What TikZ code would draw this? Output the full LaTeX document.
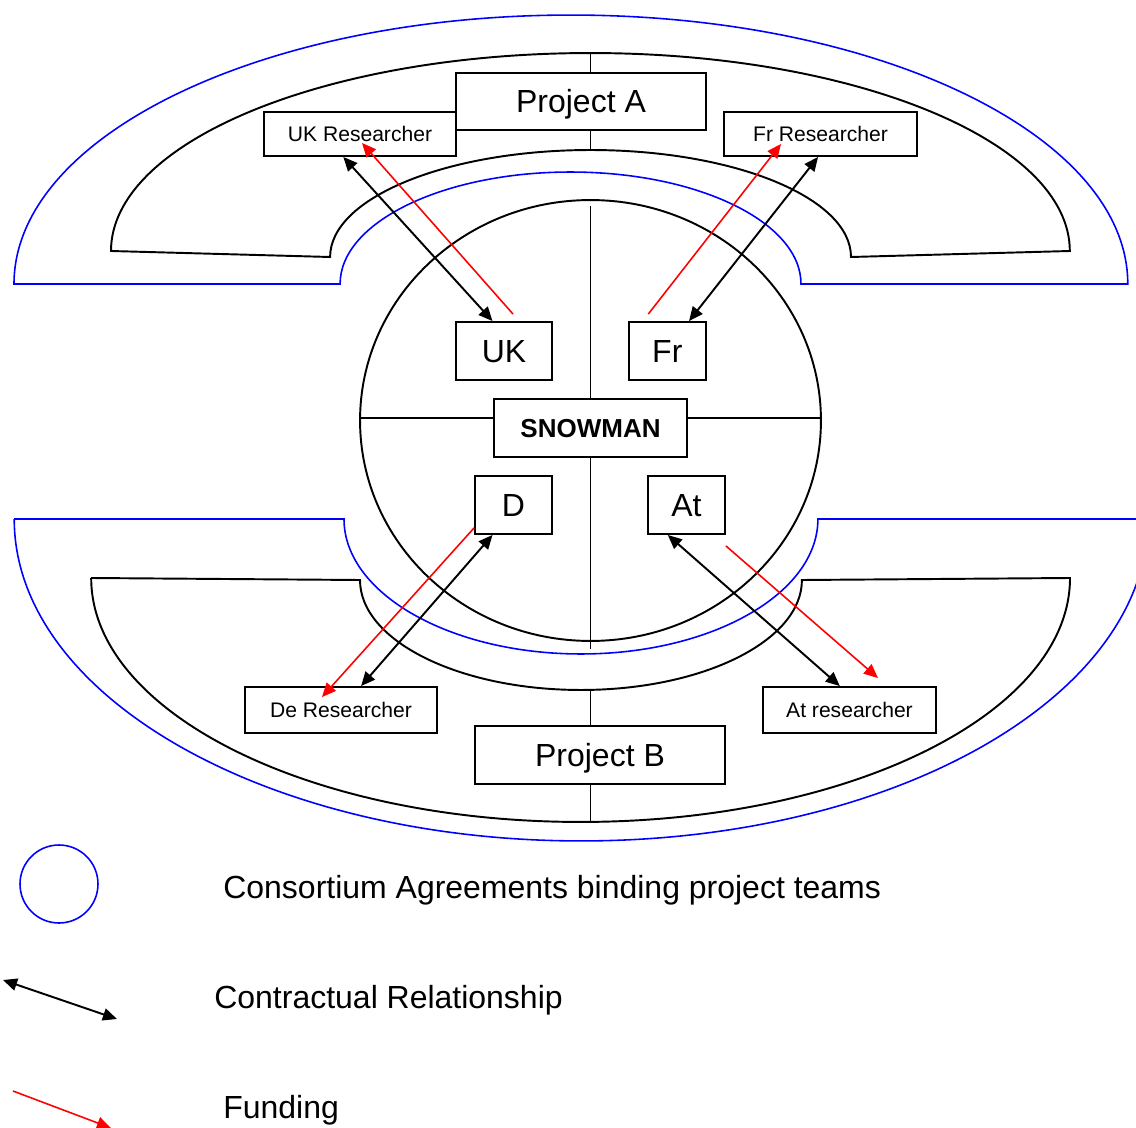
\documentclass[tikz,border=0pt]{standalone}
\usepackage{fontspec}
\setmainfont{Liberation Sans}
\usetikzlibrary{arrows.meta}

\tikzset{
  box/.style={draw, fill=white, line width=1.1pt, inner sep=0pt, text depth=0pt},
  big/.style={font=\fontsize{18.2}{21}\selectfont, text height=13pt},
  small/.style={font=\fontsize{12}{14}\selectfont, text height=8.6pt},
  bold/.style={font=\fontsize{14.8}{17}\selectfont\bfseries, text height=10.6pt},
  team/.style={line width=1.1pt},
  consortium/.style={blue, line width=0.9pt},
  contract/.style={line width=1.1pt, {Triangle[length=8pt,width=7pt]}-{Triangle[length=8pt,width=7pt]}},
  fund/.style={red, line width=0.9pt, -{Triangle[length=8pt,width=7pt]}}
}

\begin{document}
\begin{tikzpicture}[x=0.02cm, y=0.02cm]
  \useasboundingbox (0,0) rectangle (1136,-1128);
  % project A
  \draw[consortium] (14,-284) arc[start angle=180, end angle=0, x radius=11.14cm, y radius=5.38cm]
    -- (801,-284) arc[start angle=0, end angle=180, x radius=4.61cm, y radius=2.24cm] -- cycle;
  \draw[team] (111,-251) arc[start angle=180, end angle=0, x radius=9.59cm, y radius=3.96cm]
    -- (851,-257) arc[start angle=0, end angle=180, x radius=5.21cm, y radius=2.14cm] -- cycle;
  % project B
  \draw[consortium] (14,-519) -- (344,-519) arc[start angle=180, end angle=360, x radius=4.74cm, y radius=2.7cm]
    -- (1148,-519) arc[start angle=0, end angle=-180, x radius=11.34cm, y radius=6.44cm] -- cycle;
  \draw[team] (91,-578) -- (360,-580) arc[start angle=180, end angle=360, x radius=4.42cm, y radius=2.2cm]
    -- (1070,-578) arc[start angle=0, end angle=-180, x radius=9.79cm, y radius=4.88cm] -- cycle;
  % snowman
  \draw[team] (590.5,-420.5) ellipse [x radius=4.61cm, y radius=4.41cm];
  \draw[team] (590.5,-206) -- (590.5,-649);
  \draw[team] (360,-418) -- (821,-418);
  \draw[team] (590.5,-53) -- (590.5,-150);
  \draw[team] (590.5,-690) -- (590.5,-822);

  \node(projA) [box, big, minimum width=5cm, minimum height=1.14cm] at (581,-101.5) {Project A};
  \node(ukRes) [box, small, minimum width=3.84cm, minimum height=0.88cm] at (360,-134) {UK Researcher};
  \node(frRes) [box, small, minimum width=3.86cm, minimum height=0.88cm] at (820.5,-134) {Fr Researcher};
  \node(uk) [box, big, minimum width=1.92cm, minimum height=1.16cm] at (504,-351) {UK};
  \node(fr) [box, big, minimum width=1.55cm, minimum height=1.16cm] at (667.3,-351) {Fr};
  \node(snow) [box, bold, minimum width=3.86cm, minimum height=1.16cm] at (590.5,-428) {SNOWMAN};
  \node(de) [box, big, minimum width=1.54cm, minimum height=1.16cm] at (513.5,-505) {D};
  \node(aus) [box, big, minimum width=1.54cm, minimum height=1.16cm] at (686.5,-505) {At};
  \node(deRes) [box, small, minimum width=3.84cm, minimum height=0.92cm] at (341,-710) {De Researcher};
  \node(atRes) [box, small, minimum width=3.46cm, minimum height=0.92cm] at (849.5,-710) {At researcher};
  \node(projB) [box, big, minimum width=5cm, minimum height=1.16cm] at (600,-755) {Project B};

  \draw[contract] (uk.111) -- (ukRes.234);
  \draw[contract] (fr.54) -- (frRes.264);
  \draw[contract] (de.235) -- (deRes.50);
  \draw[contract] (aus.238) -- (atRes.112);
  \draw[fund] ([shift={(9,7)}]uk.north) -- ([shift={(2,14)}]ukRes.south);
  \draw[fund] ([shift={(-19,7)}]fr.north) -- ([shift={(-39.5,13)}]frRes.south);
  \draw[fund] ([shift={(0,7)}]de.south west) -- ([shift={(-19,-11)}]deRes.north);
  \draw[fund] ([shift={(0,-11)}]aus.south east) -- ([shift={(28.5,8)}]atRes.north);

  % legend
  \node(legCircle) [circle, draw, consortium, minimum size=1.56cm] at (59,-884) {};
  \node(legCA) [big, anchor=base west, inner sep=0pt] at (223,-898) {Consortium Agreements binding project teams};
  \coordinate (cr1) at (3,-980);
  \coordinate (cr2) at (117,-1019);
  \draw[contract] (cr1) -- (cr2);
  \node(legCR) [big, anchor=base west, inner sep=0pt] at (214,-1008) {Contractual Relationship};
  \coordinate (fu1) at (13,-1091);
  \coordinate (fu2) at (111,-1128);
  \draw[fund] (fu1) -- (fu2);
  \node(legF) [big, anchor=base west, inner sep=0pt] at (223,-1118) {Funding};
\end{tikzpicture}
\end{document}
